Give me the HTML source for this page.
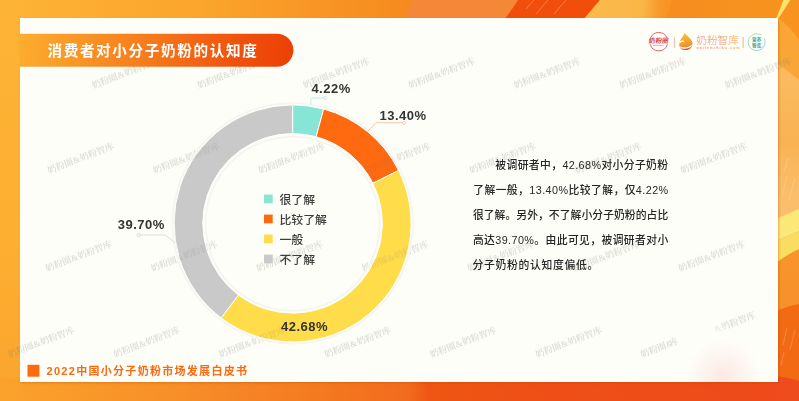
<!DOCTYPE html>
<html lang="zh-CN">
<head>
<meta charset="utf-8">
<title>消费者对小分子奶粉的认知度</title>
<style>
html,body{margin:0;padding:0;background:#fff;}
body{width:799px;height:401px;overflow:hidden;font-family:"Liberation Sans",sans-serif;}
#stage{position:relative;width:799px;height:401px;overflow:hidden;background:#f7931e;}
#stage svg{position:absolute;left:0;top:0;display:block;}
.panel{position:absolute;left:20px;top:18px;width:758px;height:363.8px;background:#fefef9;box-shadow:0.5px 1px 2px rgba(170,70,0,0.35);}
</style>
</head>
<body>
<div id="stage">

<!-- background frame -->
<svg width="799" height="401" viewBox="0 0 799 401" aria-hidden="true">
<defs>
<linearGradient id="gTop" x1="0" y1="0" x2="799" y2="0" gradientUnits="userSpaceOnUse">
<stop offset="0" stop-color="#fdb336"/><stop offset="0.25" stop-color="#fba52c"/><stop offset="0.5" stop-color="#f68b1f"/><stop offset="0.6" stop-color="#f5821f"/><stop offset="1" stop-color="#f7941e"/>
</linearGradient>
<linearGradient id="gLeft" x1="0" y1="0" x2="0" y2="401" gradientUnits="userSpaceOnUse">
<stop offset="0" stop-color="#fdb336"/><stop offset="0.6" stop-color="#fdaf31"/><stop offset="1" stop-color="#fba42d"/>
</linearGradient>
<linearGradient id="gBot" x1="0" y1="401" x2="799" y2="360" gradientUnits="userSpaceOnUse">
<stop offset="0" stop-color="#fba22c"/><stop offset="0.22" stop-color="#f78f28"/><stop offset="0.45" stop-color="#f3731e"/><stop offset="0.51" stop-color="#f26b1d"/><stop offset="0.535" stop-color="#ee5613"/><stop offset="0.68" stop-color="#ee4f16"/><stop offset="1" stop-color="#ee4a1c"/>
</linearGradient>
<linearGradient id="gRight" x1="0" y1="0" x2="0" y2="401" gradientUnits="userSpaceOnUse">
<stop offset="0" stop-color="#fbba5e"/><stop offset="0.2" stop-color="#fbba5e"/><stop offset="0.35" stop-color="#f9b254"/><stop offset="0.5" stop-color="#fbbf6c"/><stop offset="0.55" stop-color="#fbbf6c"/><stop offset="0.63" stop-color="#f7952c"/><stop offset="0.77" stop-color="#f7902a"/><stop offset="0.78" stop-color="#f26a14"/><stop offset="0.94" stop-color="#f06012"/><stop offset="1" stop-color="#ee4a1c"/>
</linearGradient>
<linearGradient id="gYO" x1="590" y1="0" x2="668" y2="6" gradientUnits="userSpaceOnUse">
<stop offset="0" stop-color="#fbba4c"/><stop offset="0.68" stop-color="#fbb648"/><stop offset="0.88" stop-color="#f89a2c"/><stop offset="1" stop-color="#f7941e"/>
</linearGradient>
</defs>
<rect x="0" y="0" width="799" height="401" fill="url(#gTop)"/>
<rect x="0" y="0" width="24" height="401" fill="url(#gLeft)"/>
<rect x="776" y="17" width="23" height="384" fill="url(#gRight)"/>
<rect x="0" y="378" width="799" height="23" fill="url(#gBot)"/>
<!-- top strip shapes -->
<path d="M414 0H518L504 20H402Z" fill="#f58738"/>
<path d="M518 0H600L583 20H504Q512 10 518 0Z" fill="#f04e0a"/>
<path d="M534 0L526 9M548 0L536 14M566 0L554 14" stroke="#f9a070" stroke-width="0.6" fill="none"/>
<path d="M600 0H672L666 20H583Z" fill="url(#gYO)"/>
<path d="M783.5 0H790.5L782.5 19H776Z" fill="#fbe060"/>
<!-- right strip shapes -->
<path d="M776 18H799V80L776 62Z" fill="#f9a636"/>
<path d="M778 18Q790 26 799 40V0H784Z" fill="#f7931e"/>
<path d="M782 196L787 176M789 200L795 178M784 172L788 158" stroke="#fcd28e" stroke-width="0.6" fill="none"/>
<path d="M783.7 0H790.4L778.4 18.6L777.2 17.4Z" fill="#fbe468"/>
<path d="M776 219L799 209V231L776 241Z" fill="#fbe878"/>
<path d="M776 241L799 231V249Q786 255 776 263Z" fill="#f9dc62"/>
<path d="M776 311Q788 306 799 304V382H776Z" fill="#f26a14"/>
<path d="M783 345L787 328M790 350L795 330M781 366L784 352" stroke="#f7a060" stroke-width="0.6" fill="none"/>
<path d="M776 376Q790 378 799 381V401H776Z" fill="#ee4c1c"/>
</svg>

<div class="panel"></div>

<!-- logos -->
<svg width="799" height="401" viewBox="0 0 799 401">
<defs>
<linearGradient id="gLogoT" x1="696" y1="0" x2="740" y2="0" gradientUnits="userSpaceOnUse">
<stop offset="0" stop-color="#ef8a78"/><stop offset="1" stop-color="#f5a258"/>
</linearGradient>
<linearGradient id="gLogoS" x1="696" y1="0" x2="738" y2="0" gradientUnits="userSpaceOnUse">
<stop offset="0" stop-color="#ea8e86"/><stop offset="1" stop-color="#f2a878"/>
</linearGradient>
<linearGradient id="gDrop" x1="684" y1="33" x2="688" y2="50" gradientUnits="userSpaceOnUse">
<stop offset="0" stop-color="#f8c038"/><stop offset="0.55" stop-color="#f4a22f"/><stop offset="1" stop-color="#ee772c"/>
</linearGradient>
<linearGradient id="gGreen" x1="750" y1="35" x2="762" y2="51" gradientUnits="userSpaceOnUse">
<stop offset="0" stop-color="#98d8a2"/><stop offset="1" stop-color="#6cc2e0"/>
</linearGradient>
<linearGradient id="gGT1" x1="0" y1="36.7" x2="0" y2="41.8" gradientUnits="userSpaceOnUse">
<stop offset="0" stop-color="#4fb265"/><stop offset="1" stop-color="#3a8fc4"/>
</linearGradient>
<linearGradient id="gGT2" x1="0" y1="43" x2="0" y2="48.2" gradientUnits="userSpaceOnUse">
<stop offset="0" stop-color="#4fb265"/><stop offset="1" stop-color="#3a8fc4"/>
</linearGradient>
<clipPath id="cpDrop"><path d="M684.5 32.9C687.5 36 692.6 39.5 692.4 43.6C692.3 47.5 689.3 50.1 685.6 50.1C682 50.1 679.2 47.6 679.2 44.2C679.2 40.5 682.8 37.5 684.5 32.9Z"/></clipPath>
</defs>
<g>
<path d="M650.4 38.4A8.9 8.9 0 0 1 667.2 38.4M667.4 44.2A8.9 8.9 0 0 1 650.2 44.2" fill="none" stroke="#e06a72" stroke-width="1"/>
<g transform="translate(658.7 41) skewX(-10) translate(-658.7 -41)"><text x="658.6" y="43.1" text-anchor="middle" font-family='"Liberation Sans","Noto Sans CJK SC",sans-serif' font-size="6.6" font-weight="bold" fill="#d84550">奶粉圈</text></g>
<rect x="653" y="44.9" width="10.6" height="0.8" fill="#dd9a9c"/>
</g>
<path d="M674.4 37.3V47.8" stroke="#f3bba2" stroke-width="1" fill="none"/>
<path d="M743.1 37V48.2" stroke="#f7b48a" stroke-width="1.1" fill="none"/>
<g clip-path="url(#cpDrop)">
<rect x="678" y="32" width="16" height="19" fill="url(#gDrop)"/>
<path d="M678 45.2C682 48.8 688 48.6 693 44.6V52H678Z" fill="#e8522a"/>
<path d="M678 44.9C682 48.3 688 48.1 693 44.2L693 45.6C688 49.6 682 49.8 678 46.4Z" fill="#fefef9"/>
<path d="M678.6 42.8C680.6 40 683.2 39.9 684.4 41.3L683.7 42.1C682.6 41.2 681 41.6 679.6 43.8Z" fill="#fefef9"/>
</g>
<text x="696.2" y="43.7" font-family='"Liberation Sans","Noto Sans CJK SC",sans-serif' font-size="10.7" font-weight="300" fill="url(#gLogoT)">奶粉智库</text>
<text x="696.4" y="49.2" font-family="Liberation Sans, sans-serif" font-size="3.6" font-weight="bold" letter-spacing="1.08" fill="url(#gLogoS)">naifenzhiku.com</text>
<g>
<path d="M761.3 35.2A8.4 8.4 0 1 0 764.2 38.6" fill="none" stroke="url(#gGreen)" stroke-width="0.8"/>
<text x="756.65" y="41" text-anchor="middle" font-family='"Liberation Sans","Noto Sans CJK SC",sans-serif' font-size="4.6" font-weight="bold" fill="url(#gGT1)">营养</text>
<text x="756.65" y="47.4" text-anchor="middle" font-family='"Liberation Sans","Noto Sans CJK SC",sans-serif' font-size="4.6" font-weight="bold" fill="url(#gGT2)">智库</text>
</g>
</svg>

<!-- watermarks, glow -->
<svg width="799" height="401" viewBox="0 0 799 401" aria-hidden="true">
<defs>
<radialGradient id="gGlow" cx="723" cy="376" r="38" gradientUnits="userSpaceOnUse">
<stop offset="0" stop-color="#fbd3ca" stop-opacity="0.5"/><stop offset="0.5" stop-color="#fbd8d0" stop-opacity="0.28"/><stop offset="1" stop-color="#fbd8d0" stop-opacity="0"/>
</radialGradient>
<radialGradient id="gGlowW" cx="716" cy="352" r="30" gradientUnits="userSpaceOnUse">
<stop offset="0" stop-color="#fefef9" stop-opacity="1"/><stop offset="0.55" stop-color="#fefef9" stop-opacity="0.9"/><stop offset="1" stop-color="#fefef9" stop-opacity="0"/>
</radialGradient>
<clipPath id="cpWmX"><rect x="-8" y="-12" width="50" height="24"/></clipPath>
<clipPath id="cpWmY"><rect x="-40" y="-12" width="39" height="24"/></clipPath>
<clipPath id="cpWmZ"><rect x="27.2" y="-12" width="12" height="24"/></clipPath>
<clipPath id="cpPanel"><rect x="20" y="18" width="758" height="364"/></clipPath>
</defs>
<g fill="#7d7d7a" opacity="0.24" font-family='"Liberation Serif","Noto Serif CJK SC",serif' font-size="9" font-weight="bold" text-anchor="middle">
<text y="3.3" transform="translate(125.0,73) rotate(-21)">奶粉圈&amp;奶粉智库</text>
<text y="3.3" transform="translate(230.5,73) rotate(-21)">奶粉圈&amp;奶粉智库</text>
<text y="3.3" transform="translate(336.0,73) rotate(-21)">奶粉圈&amp;奶粉智库</text>
<text y="3.3" transform="translate(441.5,73) rotate(-21)">奶粉圈&amp;奶粉智库</text>
<text y="3.3" transform="translate(547.0,73) rotate(-21)">奶粉圈&amp;奶粉智库</text>
<text y="3.3" transform="translate(652.5,73) rotate(-21)">奶粉圈&amp;奶粉智库</text>
<text y="3.3" transform="translate(758.0,73) rotate(-21)">奶粉圈&amp;奶粉智库</text>
<text y="3.3" transform="translate(80.5,158) rotate(-21)">奶粉圈&amp;奶粉智库</text>
<text y="3.3" transform="translate(186.0,158) rotate(-21)">奶粉圈&amp;奶粉智库</text>
<text y="3.3" transform="translate(291.5,158) rotate(-21)">奶粉圈&amp;奶粉智库</text>
<text y="3.3" transform="translate(397.0,158) rotate(-21)">奶粉圈&amp;奶粉智库</text>
<text y="3.3" transform="translate(502.5,158) rotate(-21)">奶粉圈&amp;奶粉智库</text>
<text y="3.3" transform="translate(608.0,158) rotate(-21)">奶粉圈&amp;奶粉智库</text>
<text y="3.3" transform="translate(713.5,158) rotate(-21)">奶粉圈&amp;奶粉智库</text>
<text y="3.3" transform="translate(78.5,256) rotate(-21)">奶粉圈&amp;奶粉智库</text>
<text y="3.3" transform="translate(184.0,256) rotate(-21)">奶粉圈&amp;奶粉智库</text>
<text y="3.3" transform="translate(289.5,256) rotate(-21)">奶粉圈&amp;奶粉智库</text>
<text y="3.3" transform="translate(395.0,256) rotate(-21)">奶粉圈&amp;奶粉智库</text>
<text y="3.3" transform="translate(500.5,256) rotate(-21)">奶粉圈&amp;奶粉智库</text>
<text y="3.3" transform="translate(606.0,256) rotate(-21)">奶粉圈&amp;奶粉智库</text>
<text y="3.3" transform="translate(711.5,256) rotate(-21)">奶粉圈&amp;奶粉智库</text>
<text y="3.3" transform="translate(41.0,342) rotate(-21)">奶粉圈&amp;奶粉智库</text>
<text y="3.3" transform="translate(146.5,342) rotate(-21)">奶粉圈&amp;奶粉智库</text>
<text y="3.3" transform="translate(252.0,342) rotate(-21)">奶粉圈&amp;奶粉智库</text>
<text y="3.3" transform="translate(357.5,342) rotate(-21)">奶粉圈&amp;奶粉智库</text>
<text y="3.3" transform="translate(463.0,342) rotate(-21)">奶粉圈&amp;奶粉智库</text>
<text y="3.3" transform="translate(568.5,342) rotate(-21)">奶粉圈&amp;奶粉智库</text>
<text y="3.3" transform="translate(722,327) rotate(-21)" clip-path="url(#cpWmX)">奶粉圈&amp;奶粉智库</text>
<text y="3.3" transform="translate(673.5,342) rotate(-21)" clip-path="url(#cpWmY)">奶粉圈&amp;奶粉智库</text>
<text y="3.3" transform="translate(645,353) rotate(-21)" clip-path="url(#cpWmZ)">奶粉圈&amp;奶粉智库</text>
</g>
<g clip-path="url(#cpPanel)">
<circle cx="716" cy="352" r="30" fill="url(#gGlowW)"/>
<circle cx="723" cy="376" r="38" fill="url(#gGlow)"/>
</g>
</svg>

<!-- donut chart -->
<svg width="799" height="401" viewBox="0 0 799 401">
<circle cx="292.6" cy="223.4" r="120.2" fill="none" stroke="#f5f5f2" stroke-width="1.8"/>
<circle cx="292.6" cy="223.8" r="87.1" fill="none" stroke="#f4f4f1" stroke-width="1.8"/>
<path d="M292.60 104.90A118.5 118.5 0 0 1 323.65 109.04L316.13 136.74A89.8 89.8 0 0 0 292.60 133.60Z" fill="#86e5d5" stroke="#fefef9" stroke-width="1" stroke-linejoin="round"/>
<path d="M323.65 109.04A118.5 118.5 0 0 1 398.59 170.40L372.92 183.24A89.8 89.8 0 0 0 316.13 136.74Z" fill="#ff6a10" stroke="#fefef9" stroke-width="1" stroke-linejoin="round"/>
<path d="M398.59 170.40A118.5 118.5 0 0 1 221.15 317.94L238.46 295.04A89.8 89.8 0 0 0 372.92 183.24Z" fill="#ffdc4a" stroke="#fefef9" stroke-width="1" stroke-linejoin="round"/>
<path d="M221.15 317.94A118.5 118.5 0 0 1 292.60 104.90L292.60 133.60A89.8 89.8 0 0 0 238.46 295.04Z" fill="#c9c9c9" stroke="#fefef9" stroke-width="1" stroke-linejoin="round"/>
<clipPath id="cpRing"><path clip-rule="evenodd" d="M174.10000000000002 223.4a118.5 118.5 0 1 0 237.0 0a118.5 118.5 0 1 0 -237.0 0ZM202.8 223.4a89.8 89.8 0 1 0 179.6 0a89.8 89.8 0 1 0 -179.6 0Z"/></clipPath>
<g clip-path="url(#cpRing)" fill="#6e6e6a" opacity="0.14" font-family='"Liberation Serif","Noto Serif CJK SC",serif' font-size="9" font-weight="bold" text-anchor="middle">
<text y="3.3" transform="translate(230.5,73) rotate(-21)">奶粉圈&amp;奶粉智库</text>
<text y="3.3" transform="translate(336.0,73) rotate(-21)">奶粉圈&amp;奶粉智库</text>
<text y="3.3" transform="translate(441.5,73) rotate(-21)">奶粉圈&amp;奶粉智库</text>
<text y="3.3" transform="translate(186.0,158) rotate(-21)">奶粉圈&amp;奶粉智库</text>
<text y="3.3" transform="translate(291.5,158) rotate(-21)">奶粉圈&amp;奶粉智库</text>
<text y="3.3" transform="translate(397.0,158) rotate(-21)">奶粉圈&amp;奶粉智库</text>
<text y="3.3" transform="translate(184.0,256) rotate(-21)">奶粉圈&amp;奶粉智库</text>
<text y="3.3" transform="translate(289.5,256) rotate(-21)">奶粉圈&amp;奶粉智库</text>
<text y="3.3" transform="translate(395.0,256) rotate(-21)">奶粉圈&amp;奶粉智库</text>
<text y="3.3" transform="translate(146.5,342) rotate(-21)">奶粉圈&amp;奶粉智库</text>
<text y="3.3" transform="translate(252.0,342) rotate(-21)">奶粉圈&amp;奶粉智库</text>
<text y="3.3" transform="translate(357.5,342) rotate(-21)">奶粉圈&amp;奶粉智库</text>
</g>
<g fill="none" stroke-width="0.8">
<path d="M310.9 104.6V99.4Q310.9 98 312.3 98H323.4" stroke="#a9e9df"/><circle cx="324.9" cy="98" r="1.5" stroke="#a9e9df" fill="#fefef9"/>
<path d="M368.6 130.6L376 122.7H402.6" stroke="#f6b896"/><circle cx="404.1" cy="122.7" r="1.5" stroke="#f6b896" fill="#fefef9"/>
<path d="M140.1 235H165L175.2 242.8" stroke="#d4d4d2"/><circle cx="138.6" cy="235" r="1.5" stroke="#cfcfcd" fill="#fefef9"/>
</g>
<g font-family='"Liberation Sans","Noto Sans CJK SC",sans-serif' font-size="11.9" font-weight="500" fill="#3c3c3c">
<rect x="264" y="194.6" width="8.7" height="8.7" fill="#86e5d5"/>
<text x="279.4" y="203.6">很了解</text>
<rect x="264" y="214.6" width="8.7" height="8.7" fill="#ff6a10"/>
<text x="279.4" y="223.6">比较了解</text>
<rect x="264" y="234.6" width="8.7" height="8.7" fill="#ffdc4a"/>
<text x="279.4" y="243.6">一般</text>
<rect x="264" y="254.6" width="8.7" height="8.7" fill="#c9c9c9"/>
<text x="279.4" y="263.6">不了解</text>
</g>
<g font-family='"Liberation Sans","Noto Sans CJK SC",sans-serif' font-size="13" font-weight="bold" letter-spacing="0.5" fill="#333">
<text x="311.4" y="93.2">4.22%</text>
<text x="379.5" y="119.6">13.40%</text>
<text x="117.7" y="229.3">39.70%</text>
<text x="281" y="330.5">42.68%</text>
</g>
</svg>


<!-- paragraph -->
<svg width="799" height="401" viewBox="0 0 799 401">
<g font-family='"Liberation Sans","Noto Sans CJK SC",sans-serif' font-size="10.8" font-weight="500" fill="#262626">
<text x="495.3" y="168.6" textLength="172.8" lengthAdjust="spacing">被调研者中，42.68%对小分子奶粉</text>
<text x="473.2" y="193.6" textLength="195" lengthAdjust="spacing">了解一般，13.40%比较了解，仅4.22%</text>
<text x="472.9" y="218.6" textLength="195.3" lengthAdjust="spacing">很了解。另外，不了解小分子奶粉的占比</text>
<text x="472.9" y="243.6" textLength="195.3" lengthAdjust="spacing">高达39.70%。由此可见，被调研者对小</text>
<text x="472.6" y="268.6" letter-spacing="0.7">分子奶粉的认知度偏低。</text>
</g>
</svg>

<!-- footer -->
<svg width="799" height="401" viewBox="0 0 799 401">
<rect x="27.5" y="364.8" width="11.9" height="11.9" fill="#fc6a10"/>
<text x="46.5" y="375.2" textLength="200.5" lengthAdjust="spacing" font-family='"Liberation Sans","Noto Sans CJK SC",sans-serif' font-size="11" font-weight="bold" fill="#f96a12">2022中国小分子奶粉市场发展白皮书</text>
</svg>

<!-- title pill -->
<svg width="799" height="401" viewBox="0 0 799 401">
<defs>
<linearGradient id="gPill" x1="20" y1="34" x2="294" y2="67" gradientUnits="userSpaceOnUse">
<stop offset="0" stop-color="#fcad2f"/><stop offset="0.45" stop-color="#f77c1c"/><stop offset="0.8" stop-color="#f0500c"/><stop offset="1" stop-color="#ec3f06"/>
</linearGradient>
</defs>
<path d="M20 33.7H276.9A16.55 16.55 0 0 1 276.9 66.8H20Z" fill="url(#gPill)"/>
<text x="47.4" y="55.7" font-family='"Liberation Sans","Noto Sans CJK SC",sans-serif' font-size="14.6" font-weight="bold" letter-spacing="1.65" fill="#fff">消费者对小分子奶粉的认知度</text>
</svg>

</div>
</body>
</html>
